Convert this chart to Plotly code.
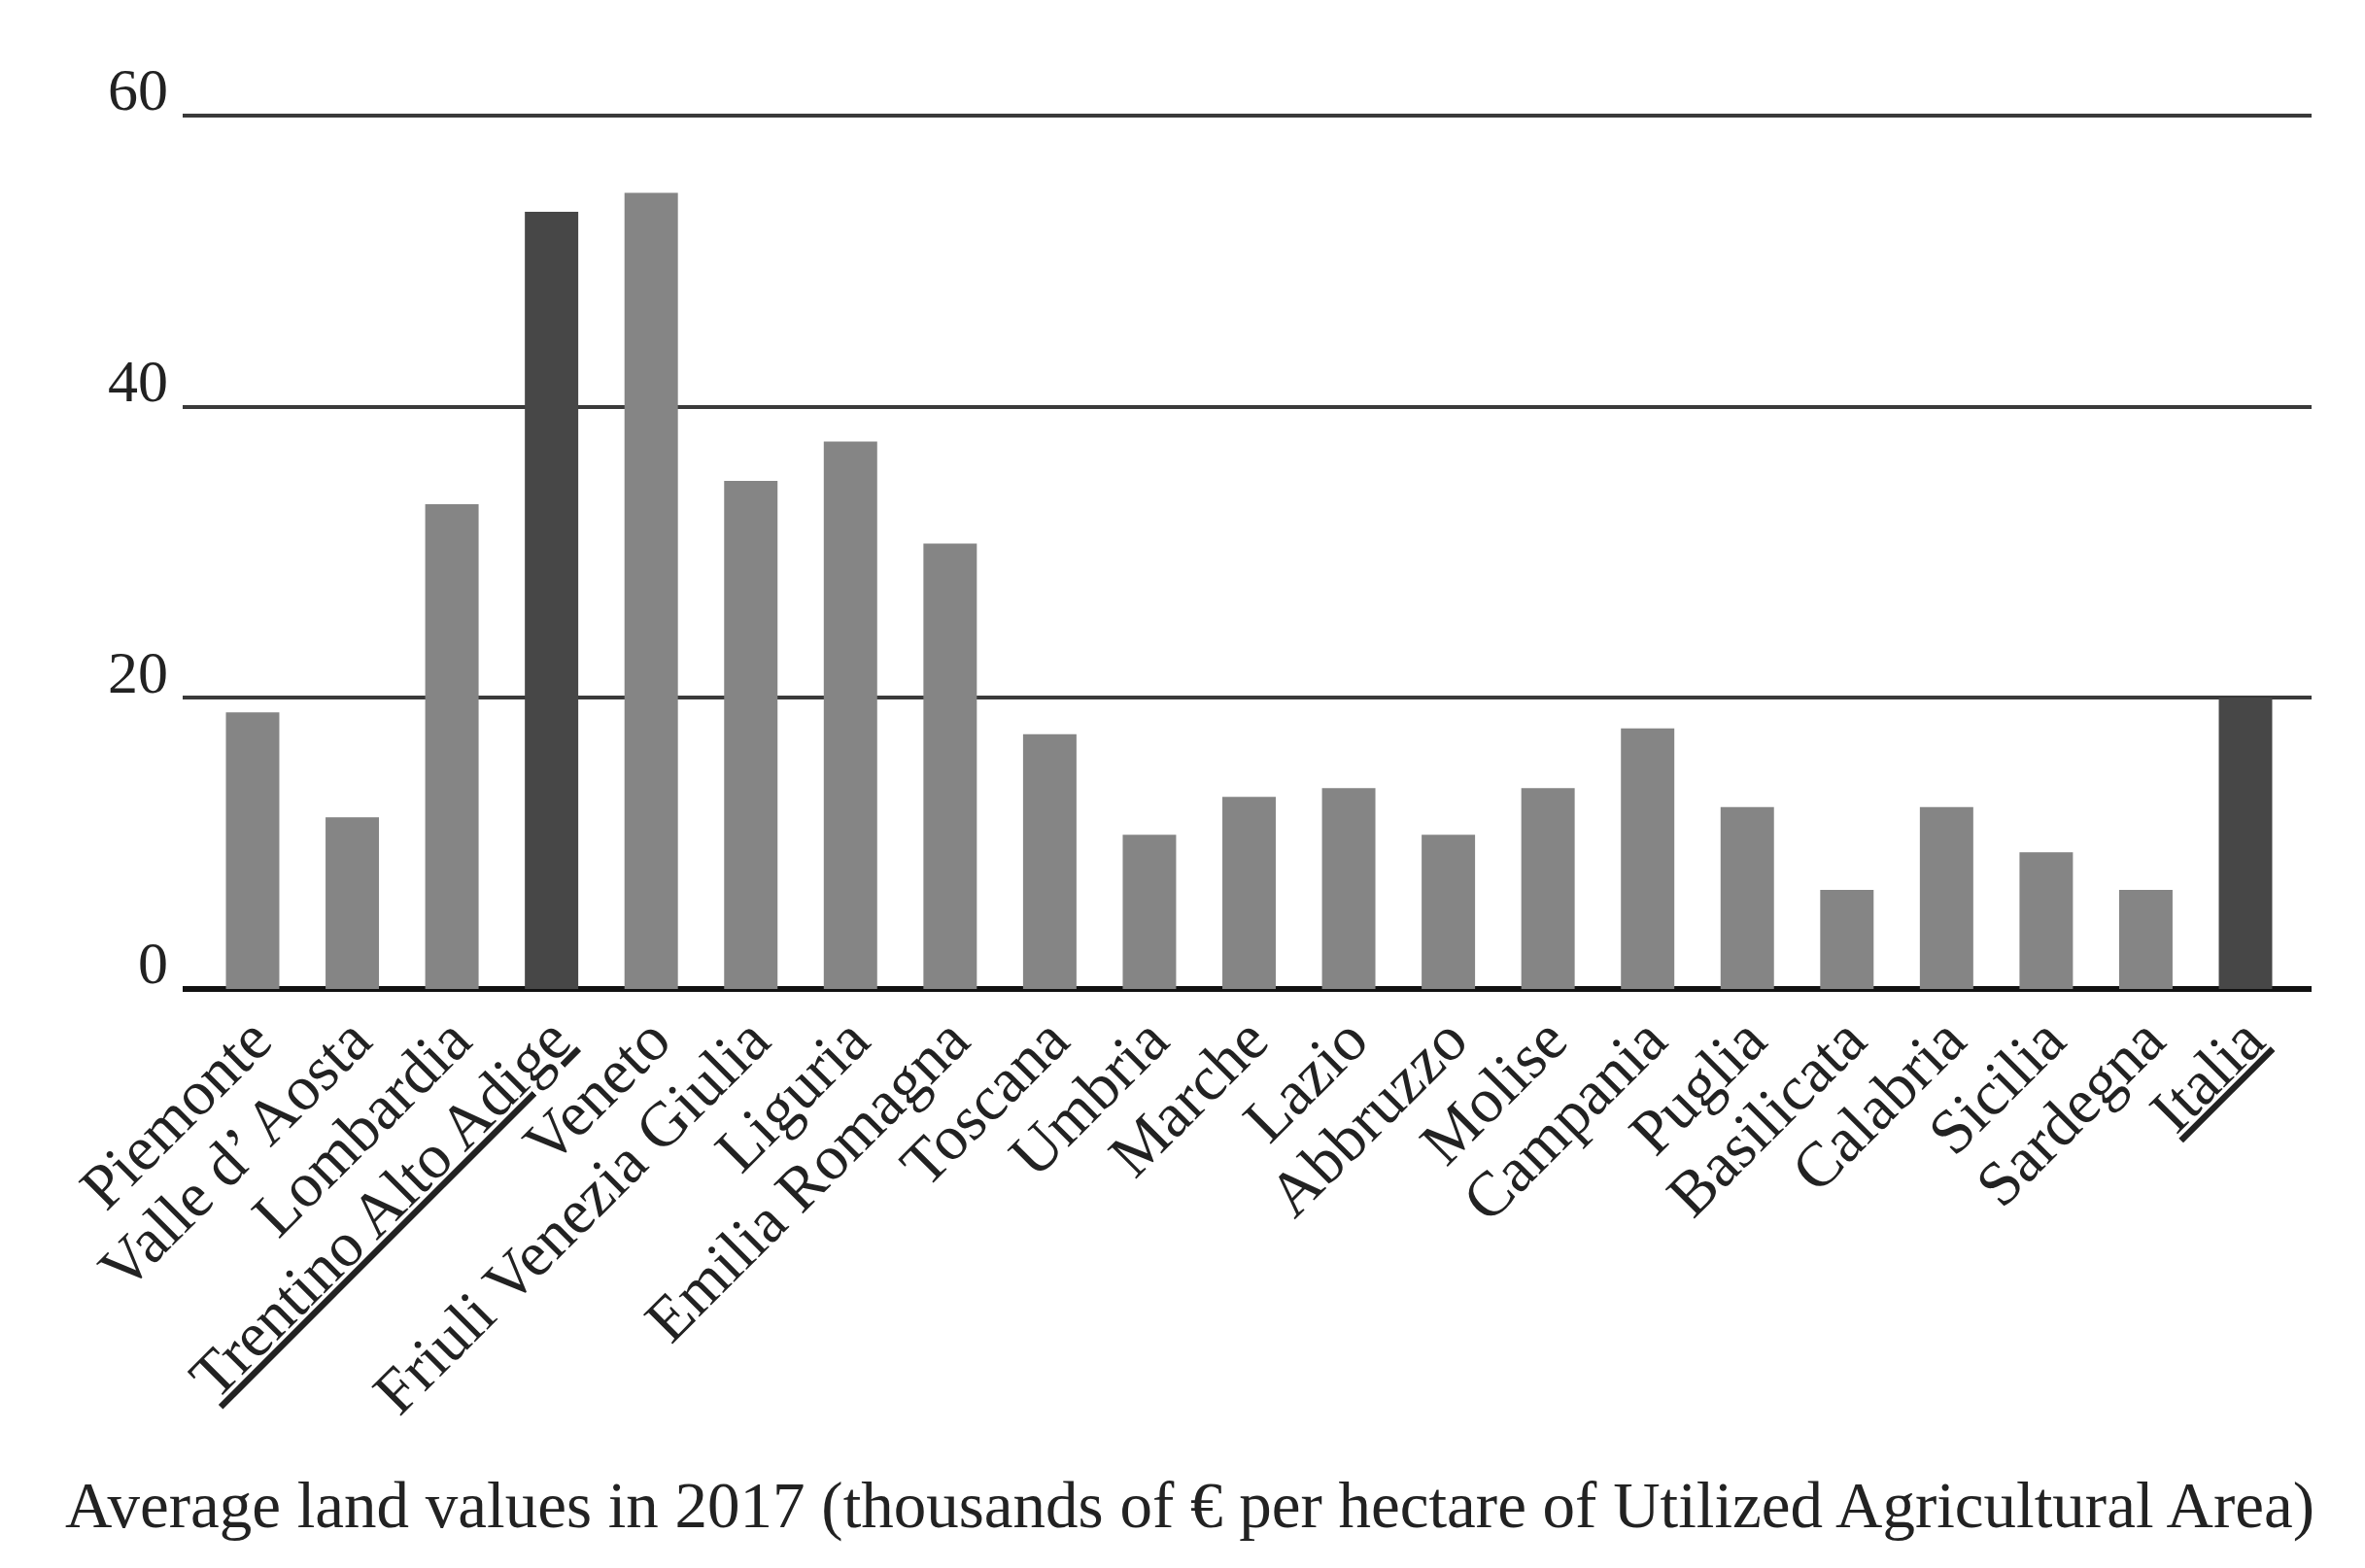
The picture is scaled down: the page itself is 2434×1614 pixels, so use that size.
import plotly.graph_objects as go

regions = ["Piemonte", "Valle d’ Aosta", "Lombardia", "Trentino Alto Adige", "Veneto",
           "Friuli Venezia Giulia", "Liguria", "Emilia Romagna", "Toscana", "Umbria",
           "Marche", "Lazio", "Abbruzzo", "Molise", "Campania", "Puglia", "Basilicata",
           "Calabria", "Sicilia", "Sardegna", "Italia"]
values = [19.0, 11.8, 33.3, 53.4, 54.7, 34.9, 37.6, 30.6, 17.5, 10.6,
          13.2, 13.8, 10.6, 13.8, 17.9, 12.5, 6.8, 12.5, 9.4, 6.8, 20.0]
highlight = ["Trentino Alto Adige", "Italia"]
y_ticks = [0, 20, 40, 60]
x_title = "Average land values in 2017 (thousands of € per hectare of Utilized Agricultural Area)"

colors = ["#474747" if r in highlight else "#858585" for r in regions]
tick_text = [f"<u>{r}</u>" if r in highlight else r for r in regions]

FONT = "Liberation Serif"
TXT = "#222222"

fig = go.Figure(go.Bar(
    x=list(range(len(regions))), y=values,
    marker=dict(color=colors, line=dict(width=0)),
    width=0.536,
))

fig.update_layout(
    width=2434, height=1614,
    margin=dict(l=180, r=63, t=96, b=604),
    paper_bgcolor="white", plot_bgcolor="white",
    showlegend=False,
    font=dict(family=FONT, color=TXT, size=62),
    annotations=[dict(
        text=x_title, xref="paper", yref="paper", x=0.4729, y=-0.581,
        xanchor="center", yanchor="middle", showarrow=False,
        font=dict(family=FONT, size=67, color=TXT),
    )],
)
fig.update_xaxes(
    tickmode="array", tickvals=list(range(len(regions))), ticktext=tick_text,
    tickangle=-45, range=[-0.702, 20.663], showgrid=False, zeroline=False,
    showline=False, ticks="",
    tickfont=dict(family=FONT, size=65, color=TXT),
)
fig.update_yaxes(
    range=[0, 61], tickmode="array", tickvals=y_ticks,
    showgrid=True, gridcolor="#3a3a3a", gridwidth=4,
    zeroline=True, zerolinecolor="#111111", zerolinewidth=6,
    showline=False, ticks="",
    ticklabelposition="outside top", ticklabelstandoff=14, ticklabelshift=16,
    tickfont=dict(family=FONT, size=62, color=TXT),
)

fig.write_html("out.html")
